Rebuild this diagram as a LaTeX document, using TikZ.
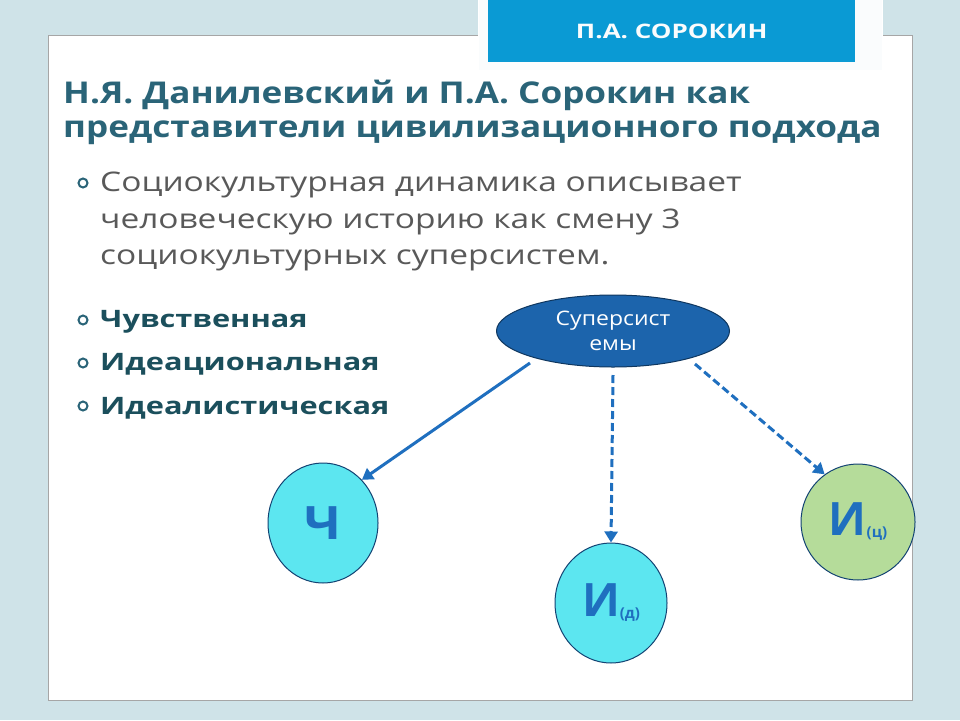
\documentclass[tikz,border=0pt]{standalone}
\usepackage{fontspec}
\setmainfont{Open Sans}
\usetikzlibrary{arrows.meta,shapes.geometric}
\definecolor{bgc}{HTML}{CFE3E8}
\definecolor{bannerc}{HTML}{0A9AD4}
\definecolor{titlec}{HTML}{2A6478}
\definecolor{itemc}{HTML}{1B4F5C}
\definecolor{bodyc}{HTML}{595959}
\definecolor{arrc}{HTML}{1F6FBF}
\definecolor{cyanc}{HTML}{5CE6F0}
\definecolor{greenc}{HTML}{B5DC9A}
\newcommand{\wide}[2]{\scalebox{#1}[1]{#2}}
\begin{document}
\begin{tikzpicture}[x=1pt,y=-1pt,
  circ/.style={ellipse,draw=arrc!60!black,line width=1pt,minimum width=110pt,minimum height=120pt,text=arrc,font=\bfseries\fontsize{46}{46}\selectfont},
  arr/.style={draw=arrc,line width=3pt,-{Triangle[length=11pt,width=13pt]}},
  bul/.style={circle,draw=titlec,line width=2pt,inner sep=0pt,minimum size=9pt},
  body/.style={anchor=west,text=bodyc,font=\fontsize{27}{27}\selectfont,inner sep=0pt},
  item/.style={anchor=west,text=itemc,font=\bfseries\fontsize{24}{24}\selectfont,inner sep=0pt}]
\fill[bgc] (0,0) rectangle (960,720);
\useasboundingbox (0,0) rectangle (960,720);
\draw[fill=white,draw=gray!70,line width=1pt] (48,35) rectangle (912,700);
\draw[fill=white!90!bgc,draw=white] (478,-2) rectangle (882,70);
\node[fill=bannerc,minimum width=367pt,minimum height=62pt,anchor=north west,inner sep=0pt,text=white!90!bgc,font=\bfseries\fontsize{20}{20}\selectfont] (ban) at (488,0) {\wide{1.3}{П.А. СОРОКИН}};
\node[anchor=west,text=titlec,font=\bfseries\fontsize{30}{30}\selectfont,inner sep=0pt] (t1) at (63,95) {\wide{1.17}{Н.Я. Данилевский и П.А. Сорокин как}};
\node[anchor=west,text=titlec,font=\bfseries\fontsize{30}{30}\selectfont,inner sep=0pt] (t2) at (63,133) {\wide{1.17}{представители цивилизационного подхода}};
\node[bul] (b0) at (83,183) {};
\node[body] (l1) at (100,185) {\wide{1.24}{Социокультурная динамика описывает}};
\node[body] (l2) at (100,222) {\wide{1.24}{человеческую историю как смену 3}};
\node[body] (l3) at (100,260) {\wide{1.24}{социокультурных суперсистем.}};
\node[bul] (b1) at (83,320) {};
\node[bul] (b2) at (83,363) {};
\node[bul] (b3) at (83,406) {};
\node[item] (i1) at (100,322) {\wide{1.28}{Чувственная}};
\node[item] (i2) at (100,364) {\wide{1.28}{Идеациональная}};
\node[item] (i3) at (100,408) {\wide{1.28}{Идеалистическая}};
\node[ellipse,fill=arrc!90!black,draw=arrc!50!black,line width=1pt,minimum width=233pt,minimum height=72pt,text=white,align=center,font=\fontsize{20}{25}\selectfont] (sup) at (613,331) {\wide{1.15}{Суперсист}\\\wide{1.15}{емы}};
\node[circ,fill=cyanc] (ch) at (323,523) {\wide{1.1}{Ч}};
\node[circ,fill=cyanc,minimum width=112pt] (id) at (611,603) {И\raisebox{-2pt}{\fontsize{15}{15}\selectfont(д)}};
\node[circ,fill=greenc,minimum width=114pt,minimum height=116pt] (ic) at (858,522) {И\raisebox{-2pt}{\fontsize{15}{15}\selectfont(ц)}};
\coordinate (s1) at ([shift={(-83,32)}]sup.center);
\coordinate (s2) at ([shift={(0,44)}]sup.center);
\coordinate (s3) at ([shift={(82,33)}]sup.center);
\draw[arr] (s1) -- (ch.48);
\draw[arr,dash pattern=on 8pt off 4pt] (s2) -- (id.north);
\draw[arr,dash pattern=on 8pt off 4pt] (s3) -- (ic.125);
\end{tikzpicture}
\end{document}
